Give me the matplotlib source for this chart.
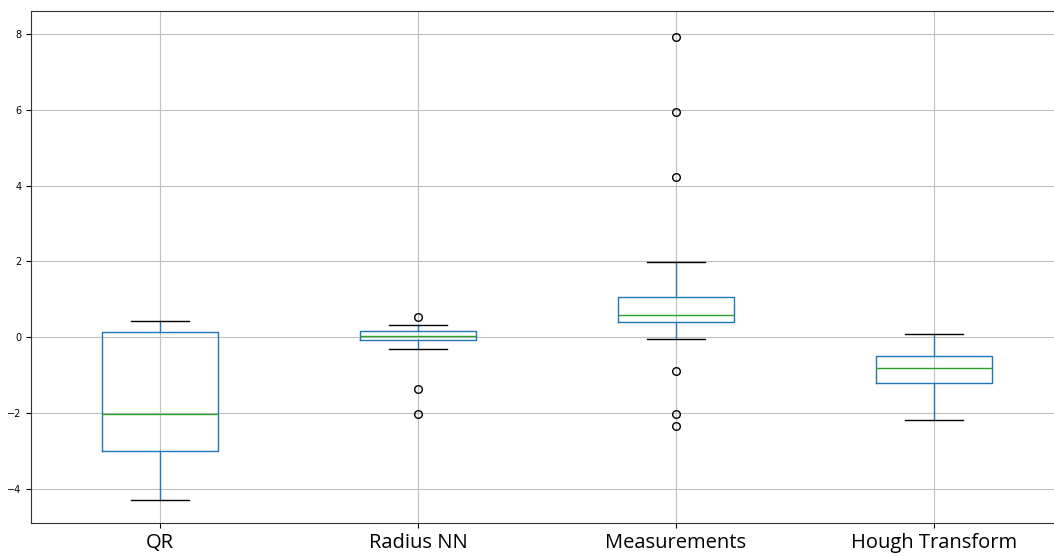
import matplotlib
matplotlib.use("Agg")
import matplotlib.pyplot as plt

labels = ["QR", "Radius NN", "Measurements", "Hough Transform"]
# whisker low, Q1, median, Q3, whisker high
whislo = [-4.29, -0.32, -0.04, -2.19]
q1 = [-3.0, -0.09, 0.41, -1.21]
med = [-2.02, 0.03, 0.57, -0.82]
q3 = [0.14, 0.17, 1.05, -0.51]
whishi = [0.42, 0.31, 1.97, 0.09]
fliers = [
    [],
    [0.53, -1.36, -2.04],
    [7.93, 5.94, 4.22, -0.9, -2.04, -2.35],
    [],
]

stats = []
for i in range(len(labels)):
    stats.append({
        "label": labels[i],
        "whislo": whislo[i],
        "q1": q1[i],
        "med": med[i],
        "q3": q3[i],
        "whishi": whishi[i],
        "fliers": fliers[i],
    })

fig = plt.figure(figsize=(10.54, 5.56), dpi=100)
ax = fig.add_axes([31 / 1054, 33 / 556, 1032 / 1054, 512 / 556])

ax.bxp(stats, widths=0.45,
       boxprops=dict(color="#1f77b4"),
       whiskerprops=dict(color="#1f77b4"),
       capprops=dict(color="black"),
       medianprops=dict(color="#2ca02c"),
       flierprops=dict(marker="o", markersize=5.5, markerfacecolor="none",
                       markeredgecolor="black"))

ax.set_ylim(-4.91, 8.61)
ax.set_xlim(0.5, 4.5)
ax.set_yticks([-4, -2, 0, 2, 4, 6, 8])
ax.grid(True, color="#c0c0c0", linewidth=0.8)
ax.set_axisbelow(True)
ax.tick_params(axis="y", labelsize=7)
ax.tick_params(axis="x", labelsize=14.5, pad=4)
for t in ax.get_xticklabels():
    t.set_family("Open Sans")
for s in ax.spines.values():
    s.set_color("#333333")

fig.savefig("out.png", dpi=100)
